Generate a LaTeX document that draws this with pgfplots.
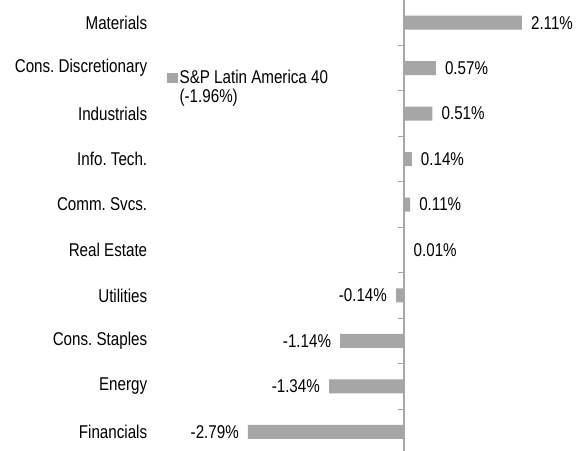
\documentclass[border=0pt]{standalone}
\usepackage{fontspec}
\setmainfont{Liberation Sans}[FakeStretch=0.82]
\usepackage{pgfplots}
\pgfplotsset{compat=1.18}
\definecolor{bargray}{HTML}{A6A6A6}
\definecolor{axgray}{HTML}{A6A6A6}
\begin{document}
\frenchspacing
\begin{tikzpicture}[font=\fontsize{18.5}{22}\selectfont]
\begin{axis}[
  at={(0,0)}, anchor=south west,
  scale only axis, width=424.84pt, height=454.5pt,
  xmin=-4.5, xmax=3.1, ymin=-0.5, ymax=9.5,
  xbar, bar width=14pt,
  hide x axis,
  y axis line style={draw=none},
  major tick length=0pt,
  ytick={0,...,9},
  ytick pos=left,
  yticklabels={Financials,Energy,Cons. Staples,Utilities,Real Estate,Comm. Svcs.,Info. Tech.,Industrials,Cons. Discretionary,Materials},
  yticklabel style={inner sep=0pt, xshift=-5pt},
  point meta=x,
  nodes near coords={\pgfmathprintnumber[fixed,fixed zerofill,precision=2,assume math mode=true]{\pgfplotspointmeta}\%},
  nodes near coords align=horizontal,
  every node near coord/.append style={inner xsep=9pt, inner ysep=0pt, text=black},
  legend cell align=left,
  legend style={at={(axis cs:-4.24,7.964)}, anchor=north west, draw=none, fill=none, inner sep=0pt, row sep=1.5pt,
    nodes={inner xsep=2pt, inner ysep=0pt, text height=13.5pt, text depth=4pt}},
  legend image code/.code={\fill[#1] (0pt,-4.2pt) rectangle (10.5pt,5.8pt);},
]
\addplot[fill=bargray, draw=none] coordinates {(-2.79,0) (-1.34,1) (-1.14,2) (-0.14,3) (0.01,4) (0.11,5) (0.14,6) (0.51,7) (0.57,8) (2.11,9)};
\addlegendentry{S\&P Latin America 40}
\addlegendimage{empty legend}
\addlegendentry{(-1.96\%)}
\end{axis}
\begin{axis}[
  at={(0,0)}, anchor=south west,
  scale only axis, width=424.84pt, height=454.5pt,
  xmin=-4.5, xmax=3.1, ymin=-0.5, ymax=9.5,
  axis x line=none,
  axis y line=center,
  axis line style={-, draw=axgray, line width=1.2pt},
  ytick={-0.5,0.5,...,9.5},
  yticklabels={},
  tick align=outside,
  major tick length=6pt,
  major tick style={draw=axgray, line width=1pt},
]
\end{axis}
\pgfresetboundingbox
\path[use as bounding box] (-152.4pt,4.5pt) rectangle (428.6pt,454.5pt);
\end{tikzpicture}
\end{document}
